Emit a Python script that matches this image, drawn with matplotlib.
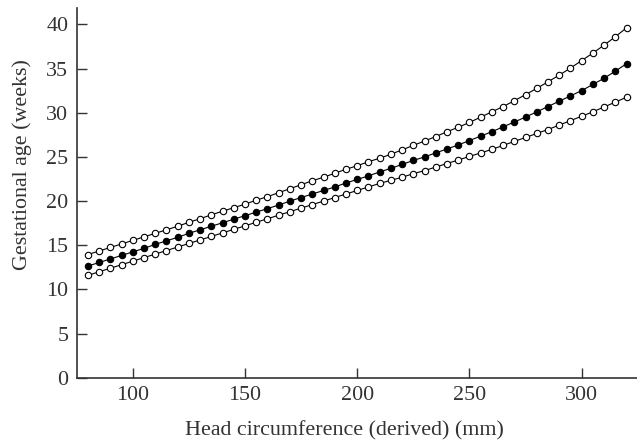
import matplotlib.pyplot as plt
import numpy as np

# head circumference (mm), every 5 mm
hc = list(range(80, 325, 5))

# gestational age (weeks)
upper = [13.95, 14.35, 14.75, 15.15, 15.55, 15.95, 16.35, 16.75, 17.15, 17.6,
         18.0, 18.45, 18.85, 19.25, 19.65, 20.1, 20.5, 20.95, 21.4, 21.85,
         22.3, 22.7, 23.15, 23.6, 24.0, 24.45, 24.85, 25.3, 25.8, 26.3,
         26.8, 27.3, 27.85, 28.35, 28.9, 29.5, 30.1, 30.7, 31.35, 32.05,
         32.75, 33.5, 34.25, 35.05, 35.9, 36.75, 37.65, 38.6, 39.6]
middle = [12.65, 13.05, 13.45, 13.85, 14.25, 14.65, 15.1, 15.5, 15.9, 16.35,
          16.75, 17.15, 17.55, 17.95, 18.35, 18.75, 19.15, 19.55, 20.0, 20.4,
          20.8, 21.2, 21.6, 22.05, 22.45, 22.85, 23.3, 23.7, 24.15, 24.6,
          25.0, 25.45, 25.9, 26.35, 26.85, 27.35, 27.85, 28.4, 28.95, 29.5,
          30.1, 30.7, 31.3, 31.9, 32.5, 33.2, 33.9, 34.7, 35.55]
lower = [11.6, 12.0, 12.4, 12.8, 13.2, 13.6, 14.0, 14.4, 14.8, 15.2,
         15.6, 16.0, 16.4, 16.8, 17.2, 17.6, 18.0, 18.4, 18.8, 19.2,
         19.6, 20.0, 20.4, 20.8, 21.2, 21.6, 22.0, 22.35, 22.7, 23.1,
         23.45, 23.85, 24.25, 24.65, 25.05, 25.45, 25.85, 26.3, 26.75, 27.2,
         27.65, 28.1, 28.6, 29.1, 29.6, 30.1, 30.65, 31.2, 31.75]

xticks = [100, 150, 200, 250, 300]
yticks = [0, 5, 10, 15, 20, 25, 30, 35, 40]

plt.rcParams['font.family'] = ['Liberation Serif', 'DejaVu Serif']
fsize = 15.8
grey = '#333333'

fig = plt.figure(figsize=(6.37, 4.45), dpi=100)
ax = fig.add_axes([0.1204, 0.151, 0.879, 0.830])

for vals, face in [(upper, 'white'), (middle, 'black'), (lower, 'white')]:
    ax.plot(hc, vals, color='black', linewidth=0.8, marker='o', markersize=4.6,
            markerfacecolor=face, markeredgecolor='black', markeredgewidth=0.8)

ax.set_xlim(75, 324.5)
ax.set_ylim(0, 41.8)
ax.set_xticks(xticks)
ax.set_yticks(yticks)

for side in ['top', 'right']:
    ax.spines[side].set_visible(False)
for side in ['left', 'bottom']:
    ax.spines[side].set_linewidth(1.2)
    ax.spines[side].set_color(grey)

ax.tick_params(direction='in', length=7, width=1.0, color=grey,
               labelsize=fsize, labelcolor=grey)
ax.tick_params(axis='x', pad=6)
ax.tick_params(axis='y', pad=6)

ax.set_xlabel('Head circumference (derived) (mm)', fontsize=fsize, color=grey)
ax.set_ylabel('Gestational age (weeks)', fontsize=fsize, color=grey)
ax.xaxis.set_label_coords(0.478, -0.118)
ax.yaxis.set_label_coords(-0.08, 0.578)

fig.savefig('out.png', dpi=100)
